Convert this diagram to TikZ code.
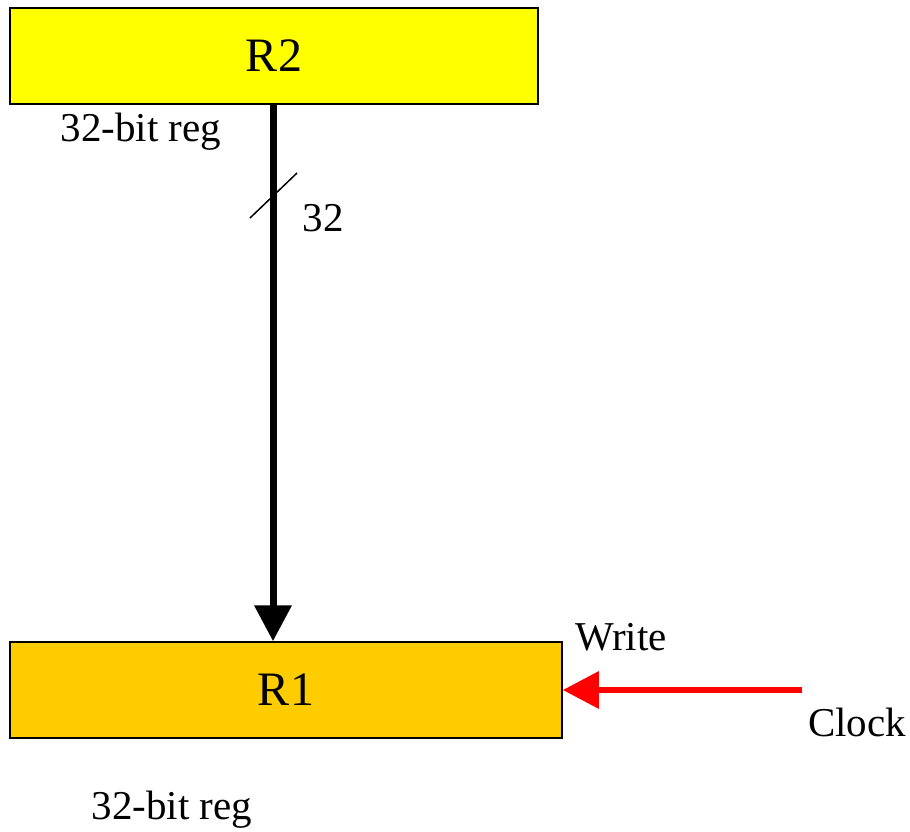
\documentclass[tikz,border=0pt]{standalone}
\usepackage{fontspec}
\setmainfont{Liberation Serif}
\usetikzlibrary{arrows.meta}
\definecolor{regyellow}{RGB}{255,255,0}
\definecolor{reggold}{RGB}{255,204,0}
\definecolor{clockred}{RGB}{255,0,0}
\tikzset{
  reg/.style={draw, line width=1.5pt, inner sep=0pt, minimum height=96pt, font=\fontsize{48}{50}\selectfont},
  lbl/.style={inner sep=0pt, font=\fontsize{41}{44}\selectfont},
  bus/.style={line width=7pt, -{Triangle[width=36pt,length=36pt]}}
}

\begin{document}
\begin{tikzpicture}[x=1pt, y=-1pt]
\useasboundingbox (0, 0) rectangle (910, 831);
\node [reg, fill=regyellow, minimum width=528pt] (r2) at (274, 56) {R2};
\node [reg, fill=reggold, minimum width=552pt] (r1) at (286, 690) {R1};
\node [lbl] (toplbl) at (141, 132) {32-bit reg};
\node [lbl] (botlbl) at (172, 810) {32-bit reg};
\coordinate (clk) at (802, 690);
\draw [bus] (r2.south -| 273, 0) -- (r1.north -| 273, 0);
\draw [line width=1.5pt] (250, 218) -- (297, 173);
\node [lbl] (width) at (323, 218) {32};
\draw [bus, line width=6pt, color=clockred] (clk) -- (r1.east);
\node [lbl] (write) at (621, 637) {Write};
\node [lbl] (clock) at (857, 722) {Clock};
\end{tikzpicture}
\end{document}
